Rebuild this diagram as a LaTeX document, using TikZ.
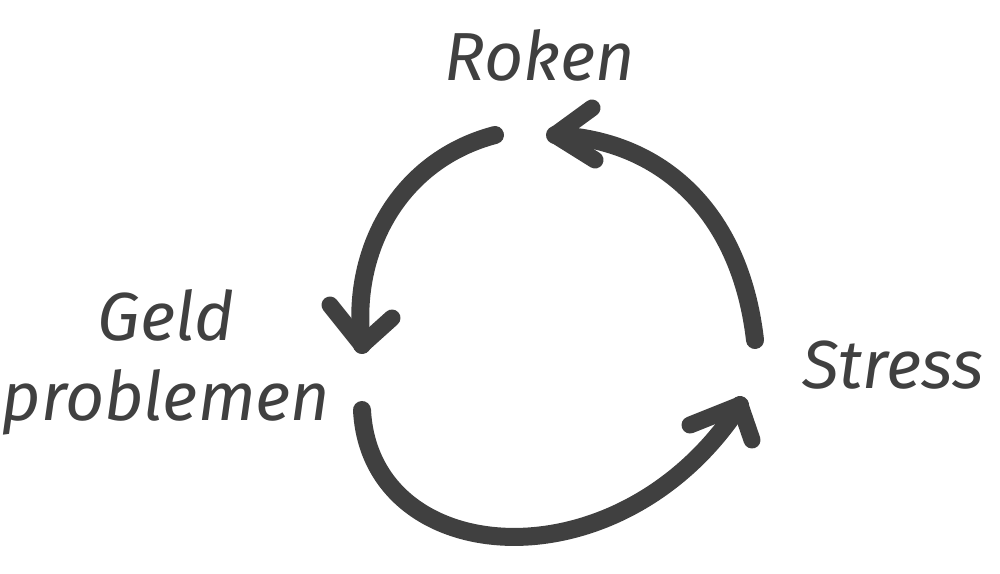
\documentclass[tikz,border=0pt]{standalone}
\usepackage{fontspec}
\setmainfont{Fira Sans}
\begin{document}
\begin{tikzpicture}[x=1pt,y=-1pt,
  lbl/.style={font=\itshape\fontsize{68}{80}\selectfont, text=black!75},
  arc/.style={draw=black!75, line width=18pt, line cap=round, line join=round},
  head/.style={draw=black!75, line width=17pt, line cap=round, line join=round}]
\useasboundingbox (0,0) rectangle (1000,573);
\node[lbl] (roken) at (540,55) {Roken};
\node[lbl, align=center] (geld) at (166,362) {Geld\\problemen};
\node[lbl] (stress) at (893,365) {Stress};
\coordinate (a1s) at (495,135); \coordinate (a1e) at (362,345);
\coordinate (a2s) at (362,410); \coordinate (a2e) at (740,405);
\coordinate (a3s) at (755,340); \coordinate (a3e) at (555,135);
\draw[arc] (a1s) .. controls (400,160) and (350,250) .. (a1e);
\draw[head] (330,305) -- (a1e) -- (392,318);
\draw[arc] (a2s) .. controls (370,570) and (620,590) .. (a2e);
\draw[head] (690,425) -- (a2e) -- (752,440);
\draw[arc] (a3s) .. controls (740,210) and (660,140) .. (a3e);
\draw[head] (592,108) -- (a3e) -- (595,160);
\end{tikzpicture}
\end{document}
